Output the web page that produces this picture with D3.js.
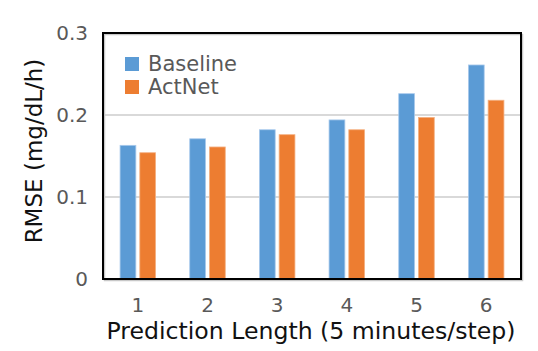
<!DOCTYPE html>
<html>
<head>
<meta charset="utf-8">
<script src="https://cdn.jsdelivr.net/npm/d3@7"></script>
<style>
  body { margin: 0; background: #fff; }
  text { font-family: "DejaVu Sans", sans-serif; }
</style>
</head>
<body>
<div id="chart"></div>
<script>
const categories = ['1', '2', '3', '4', '5', '6'];
const series = ['Baseline', 'ActNet'];
const baseline = [0.163, 0.171, 0.182, 0.194, 0.226, 0.261];
const actnet = [0.154, 0.161, 0.176, 0.182, 0.197, 0.218];
const yTicks = [0, 0.1, 0.2, 0.3];
const yTickLabels = ['0', '0.1', '0.2', '0.3'];

const colors = ['#5b9bd5', '#ed7d31'];
const strokes = ['#a8c9ec', '#f4b183'];

const width = 538, height = 351;
const m = { left: 103, top: 33, right: 521, bottom: 279 };

const svg = d3.select('#chart').append('svg')
    .attr('width', width)
    .attr('height', height);

const x0 = d3.scaleBand()
    .domain(categories)
    .range([m.left, m.right])
    .paddingInner(0.49)
    .paddingOuter(0.245);

const x1 = d3.scaleBand()
    .domain(series)
    .range([0, x0.bandwidth()])
    .paddingInner(0.2);

const y = d3.scaleLinear()
    .domain([0, 0.3])
    .range([m.bottom, m.top]);

// lignes de grille
svg.append('g')
    .selectAll('line')
    .data(yTicks.slice(1, -1))
    .enter()
    .append('line')
    .attr('x1', m.left)
    .attr('x2', m.right)
    .attr('y1', d => y(d))
    .attr('y2', d => y(d))
    .attr('stroke', '#d9d9d9')
    .attr('stroke-width', 2);

// barres
const rows = categories.map((c, i) => ({ cat: c, values: [baseline[i], actnet[i]] }));

svg.append('g')
    .selectAll('g')
    .data(rows)
    .enter()
    .append('g')
    .attr('transform', d => `translate(${x0(d.cat)},0)`)
    .selectAll('rect')
    .data(d => d.values.map((v, k) => ({ s: series[k], k: k, v: v })))
    .enter()
    .append('rect')
    .attr('x', d => x1(d.s))
    .attr('y', d => y(d.v))
    .attr('width', x1.bandwidth())
    .attr('height', d => y(0) - y(d.v))
    .attr('fill', d => colors[d.k])
    .attr('stroke', d => strokes[d.k])
    .attr('stroke-width', 0.8);

// cadre avec ombre légère
svg.append('rect')
    .attr('x', m.left + 1.5)
    .attr('y', m.top + 1.5)
    .attr('width', m.right - m.left)
    .attr('height', m.bottom - m.top)
    .attr('fill', 'none')
    .attr('stroke', '#c8c8c8')
    .attr('stroke-width', 1.5);

svg.append('rect')
    .attr('x', m.left)
    .attr('y', m.top)
    .attr('width', m.right - m.left)
    .attr('height', m.bottom - m.top)
    .attr('fill', 'none')
    .attr('stroke', '#000')
    .attr('stroke-width', 2);

// axe y
const yAxis = svg.append('g')
    .attr('transform', `translate(${m.left},0)`)
    .call(d3.axisLeft(y).tickValues(yTicks).tickFormat((d, i) => yTickLabels[i]).tickSize(0).tickPadding(15));
yAxis.select('.domain').remove();
yAxis.selectAll('text')
    .attr('font-size', '20px')
    .attr('font-family', 'DejaVu Sans')
    .attr('fill', '#595959');

// axe x
const xAxis = svg.append('g')
    .attr('transform', `translate(0,${m.bottom})`)
    .call(d3.axisBottom(x0).tickSize(0).tickPadding(19));
xAxis.select('.domain').remove();
xAxis.selectAll('text')
    .attr('font-size', '20px')
    .attr('font-family', 'DejaVu Sans')
    .attr('fill', '#595959');

// titres des axes
svg.append('text')
    .attr('transform', `translate(41.5,151) rotate(-90)`)
    .attr('text-anchor', 'middle')
    .attr('font-size', '23px')
    .attr('fill', '#111')
    .text('RMSE (mg/dL/h)');

svg.append('text')
    .attr('x', 311)
    .attr('y', 339)
    .attr('text-anchor', 'middle')
    .attr('font-size', '23.6px')
    .attr('fill', '#111')
    .text('Prediction Length (5 minutes/step)');

// légende
const legend = svg.append('g')
    .selectAll('g')
    .data(series)
    .enter()
    .append('g')
    .attr('transform', (d, i) => `translate(125,${57 + i * 23})`);

legend.append('rect')
    .attr('width', 14)
    .attr('height', 14)
    .attr('fill', (d, i) => colors[i]);

legend.append('text')
    .attr('x', 23)
    .attr('y', 14)
    .attr('font-size', '21px')
    .attr('fill', '#595959')
    .text(d => d);
</script>
</body>
</html>
